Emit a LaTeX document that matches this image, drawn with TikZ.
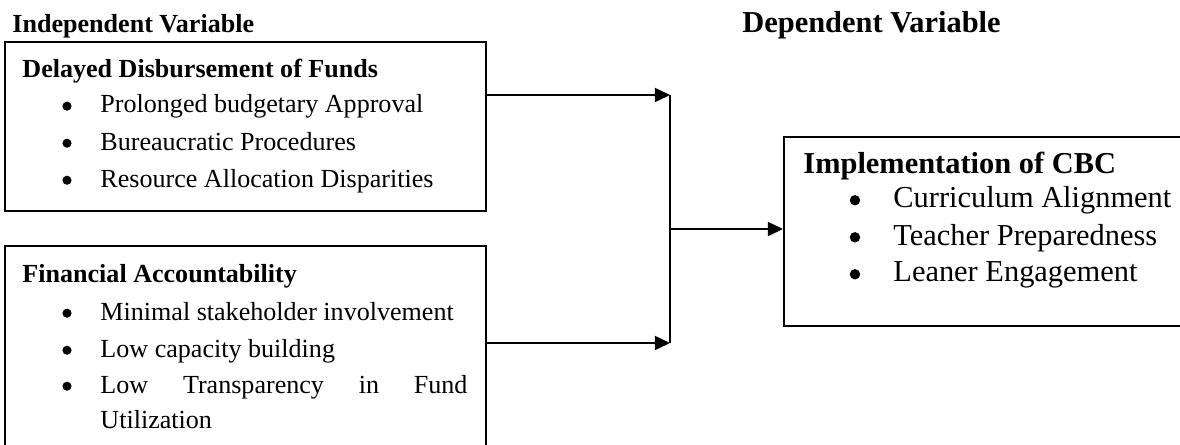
\documentclass[tikz,border=0pt]{standalone}
\usepackage{fontspec}
\setmainfont{Liberation Serif}
\usetikzlibrary{arrows.meta}

\tikzset{
  varbox/.style={draw, line width=0.8pt, anchor=north west, inner sep=0pt},
  boxtitle/.style={anchor=base west, inner sep=0pt, font=\fontsize{12}{16.5}\selectfont\bfseries},
  bigtitle/.style={anchor=base west, inner sep=0pt, font=\fontsize{14}{17}\selectfont\bfseries},
  listitem/.style={anchor=base west, inner sep=0pt, font=\fontsize{12}{16.5}\selectfont},
  biglist/.style={listitem, font=\fontsize{14}{17}\selectfont},
  bulletdot/.style={circle, fill, inner sep=0pt, minimum size=4.2pt},
  flow/.style={line width=0.8pt, -{Triangle[length=7pt,width=6.5pt]}}
}

\begin{document}
\begin{tikzpicture}
				\useasboundingbox (0,0) rectangle (19.089,7.183);
				\clip (0,0) rectangle (19.089,7.183);
				
				% headings
				\node[boxtitle] (indep) at (0.194,6.649) {Independent Variable};
				\node[bigtitle] (dep) at (12.003,6.649) {Dependent Variable};
				
				% boxes
				\node[varbox, minimum width=7.781cm, minimum height=2.734cm] (delay) at (0.065,6.519) {};
				\node[varbox, minimum width=7.781cm, minimum height=4.6cm] (account) at (0.065,3.219) {};
				\node[varbox, minimum width=7.2cm, minimum height=3.057cm] (cbc) at (12.667,4.982) {};
				
				% delayed disbursement
				\node[boxtitle] (delayhead) at (0.356,5.937) {Delayed Disbursement of Funds};
				\foreach \y/\txt [count=\i] in {5.355/Prolonged budgetary Approval, 4.756/Bureaucratic Procedures, 4.157/Resource Allocation Disparities} {
					\node[bulletdot] (db\i) at (1.084,\y+0.11) {};
					\node[listitem] (dt\i) at (1.618,\y) {\txt};
				}
				
				% financial accountability
				\node[boxtitle] (accounthead) at (0.356,2.605) {Financial Accountability};
				\foreach \y/\txt [count=\i] in {2.006/Minimal stakeholder involvement, 1.407/Low capacity building} {
					\node[bulletdot] (ab\i) at (1.084,\y+0.11) {};
					\node[listitem] (at\i) at (1.618,\y) {\txt};
				}
				\node[bulletdot] (ab3) at (1.084,0.935) {};
				\node[listitem, text width=5.937cm, align=justify] (at3) at (1.618,0.825) {Low Transparency in Fund \mbox{Utilization}};
				
				% implementation of cbc
				\node[bigtitle] (cbchead) at (12.990,4.384) {Implementation of CBC};
				\foreach \y/\txt [count=\i] in {3.818/Curriculum Alignment, 3.219/Teacher Preparedness, 2.621/Leaner Engagement} {
					\node[bulletdot, minimum size=4.8pt] (cb\i) at (13.831,\y+0.125) {};
					\node[biglist] (ct\i) at (14.446,\y) {\txt};
				}
				
				% connectors
				\coordinate (jtop) at (10.839,5.646);
				\coordinate (jbot) at (10.839,1.634);
				\coordinate (joint) at (10.839,3.478);
				\draw[flow] (delay.east |- jtop) -- (jtop);
				\draw[flow] (account.east |- jbot) -- (jbot);
				\draw[line width=0.8pt] (jtop) -- (jbot);
				\draw[flow] (joint) -- (cbc.west |- joint);
			\end{tikzpicture}
\end{document}
